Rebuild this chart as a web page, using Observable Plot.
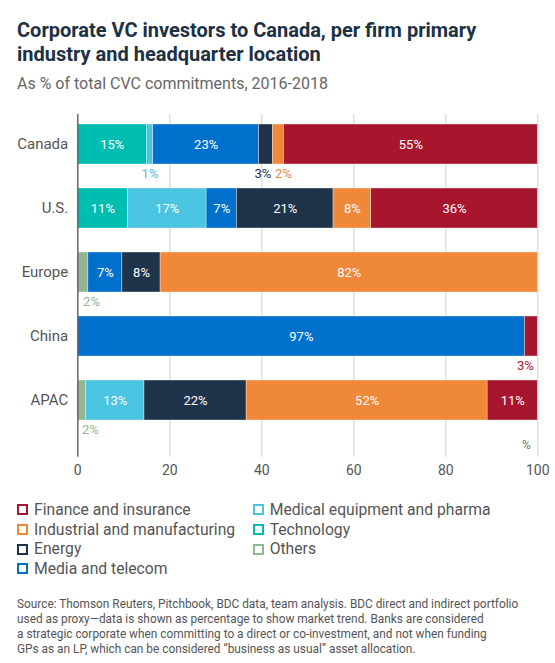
<!DOCTYPE html>
<html>
<head>
<meta charset="utf-8">
<script src="https://cdn.jsdelivr.net/npm/d3@7"></script>
<script src="https://cdn.jsdelivr.net/npm/@observablehq/plot@0.6"></script>
<style>
  html, body { margin: 0; padding: 0; background: #fff; }
  body { width: 555px; font-family: Roboto, "Noto Sans", sans-serif; }
  #header { position: relative; height: 100px; }
  #title { position: absolute; left: 17px; top: 18px; margin: 0; font-size: 20px; line-height: 24px; font-weight: 700; color: #1c3144; }
  #subtitle { position: absolute; left: 17px; top: 73.5px; font-size: 16px; line-height: 20px; color: #666; }
  #chart svg { display: block; }
  #legend { margin: 15px 0 0 17px; display: flex; }
  .col { display: flex; flex-direction: column; }
  .col1 { width: 235.7px; flex: none; }
  .item { display: flex; align-items: center; font-size: 15.7px; color: #555; height: 19.7px; line-height: 19.7px; white-space: nowrap; }
  .sw { width: 11px; height: 11px; box-sizing: border-box; border: 2.7px solid; background: #fff; margin-right: 6px; flex: none; }
  #source { margin: 18.5px 0 0 17px; font-size: 11.85px; line-height: 15px; color: #555; white-space: nowrap; }
</style>
</head>
<body>
<div id="header">
  <div id="title">Corporate VC investors to Canada, per firm primary<br>industry and headquarter location</div>
  <div id="subtitle">As % of total CVC commitments, 2016-2018</div>
</div>
<div id="chart"></div>
<div id="legend"><div class="col col1"></div><div class="col col2"></div></div>
<div id="source">Source: Thomson Reuters, Pitchbook, BDC data, team analysis. BDC direct and indirect portfolio<br>used as proxy—data is shown as percentage to show market trend. Banks are considered<br>a strategic corporate when committing to a direct or co-investment, and not when funding<br>GPs as an LP, which can be considered “business as usual” asset allocation.</div>
<script>
// ---- data ----
const regions = ["Canada", "U.S.", "Europe", "China", "APAC"];
const industries = ["Others", "Technology", "Medical equipment and pharma", "Media and telecom", "Energy", "Industrial and manufacturing", "Finance and insurance"];
const colors = ["#93b593", "#00bdb1", "#4bc4e1", "#0070cd", "#1f344a", "#f0883a", "#a8162e"];
const legendCol1 = ["Finance and insurance", "Industrial and manufacturing", "Energy", "Media and telecom"];
const legendCol2 = ["Medical equipment and pharma", "Technology", "Others"];

// values per industry, in the order of regions (% of total)
const others     = [0,    0,    2.3,  0,    1.8];
const technology = [15.0, 10.9, 0,    0,    0];
const medical    = [1.4,  17.1, 0,    0,    12.7];
const media      = [23.0, 6.6,  7.4,  97.2, 0];
const energy     = [3.0,  21.0, 8.3,  0,    22.2];
const industrial = [2.4,  8.2,  82.0, 0,    52.4];
const finance    = [55.2, 36.2, 0,    2.8,  10.9];
const xTicks = [0, 20, 40, 60, 80, 100];

// ---- build table ----
const series = [others, technology, medical, media, energy, industrial, finance];
const rows = [];
regions.forEach((r, ri) => {
  let acc = 0;
  const segs = [];
  series.forEach((s, si) => {
    const v = s[ri];
    if (v > 0) {
      segs.push({region: r, industry: industries[si], value: v, x1: acc, x2: acc + v, mid: acc + v / 2, label: Math.round(v) + "%"});
      acc += v;
    }
  });
  segs.forEach((d, i) => {
    d.small = d.value < 4;
    d.first = i === 0;
    d.last = i === segs.length - 1;
    d.prevSmall = i > 0 && segs[i - 1].value < 4;
    d.nextSmall = i < segs.length - 1 && segs[i + 1].value < 4;
  });
  rows.push(...segs);
});
const inside = rows.filter(d => !d.small);
const small = rows.filter(d => d.small);
const smallStart = small.filter(d => d.first);
const smallEnd = small.filter(d => d.last && !d.first);
const smallMid = small.filter(d => !d.first && !d.last);

const W = 555, H = 385;
const chart = Plot.plot({
  width: W,
  height: H,
  marginLeft: 77.3,
  marginRight: 17.7,
  marginTop: 14,
  marginBottom: 28.3,
  style: {fontFamily: "Roboto, sans-serif", background: "#fff"},
  x: {domain: [0, 100], ticks: xTicks},
  y: {domain: regions, range: [22.7, 321.7], padding: 0.38, paddingOuter: 0},
  color: {domain: industries, range: colors},
  marks: [
    Plot.ruleX(xTicks.filter(t => t > 0), {stroke: "#cfcfcf", strokeWidth: 1}),
    Plot.barX(rows, {x1: "x1", x2: "x2", y: "region", fill: "industry", stroke: "white", strokeWidth: 0.5, strokeOpacity: 0.7}),
    Plot.text(inside, {x: "mid", y: "region", text: "label", fill: "white", fontSize: 13}),
    Plot.text(smallStart, {x: "mid", y: "region", text: "label", fill: "industry", fontSize: 13, textAnchor: "start", dy: 29.6}),
    Plot.text(smallEnd, {x: "mid", y: "region", text: "label", fill: "industry", fontSize: 13, textAnchor: "end", dx: 2.4, dy: 29.6}),
    ...smallMid.map(d => Plot.text([d], {x: "mid", y: "region", text: "label", fill: "industry", fontSize: 13, dx: d.nextSmall ? -3 : (d.prevSmall ? 5 : 0), dy: 29.6})),
    Plot.ruleX([0], {stroke: "#666", strokeWidth: 1.5}),
    Plot.axisX({ticks: xTicks, tickSize: 0, tickPadding: 8, fontSize: 14, color: "#555", label: null}),
    Plot.axisY({tickSize: 0, tickPadding: 9.6, fontSize: 15, color: "#555", label: null}),
    Plot.text(["%"], {frameAnchor: "bottom-right", text: d => d, dx: -7, dy: -8.7, fontSize: 12, fill: "#777", textAnchor: "end"})
  ]
});
document.getElementById("chart").appendChild(chart);

// ---- legend ----
function addItems(colEl, names) {
  names.forEach(name => {
    const item = document.createElement("div");
    item.className = "item";
    const sw = document.createElement("span");
    sw.className = "sw";
    sw.style.borderColor = colors[industries.indexOf(name)];
    item.appendChild(sw);
    item.appendChild(document.createTextNode(name));
    colEl.appendChild(item);
  });
}
addItems(document.querySelector("#legend .col1"), legendCol1);
addItems(document.querySelector("#legend .col2"), legendCol2);
</script>
</body>
</html>
